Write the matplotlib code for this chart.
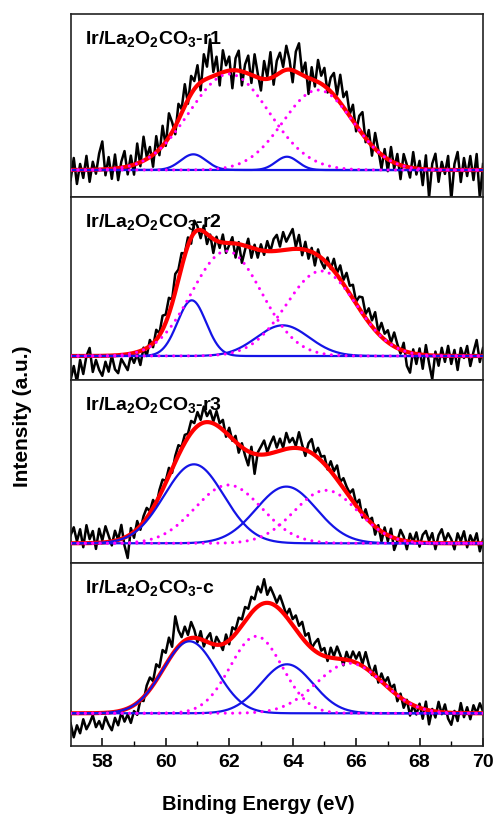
"""Ir 4f XPS of the Ir/La2O2CO3 catalysts: raw spectra, fitted envelope and
the metallic / oxidised doublet components, stacked one panel per sample."""

import matplotlib

matplotlib.use("Agg")
import matplotlib.pyplot as plt  # noqa: E402
import numpy as np  # noqa: E402

plt.rcParams["font.family"] = ["Liberation Sans", "DejaVu Sans"]
plt.rcParams["font.weight"] = "bold"
plt.rcParams["mathtext.fontset"] = "custom"
plt.rcParams["mathtext.bf"] = "Liberation Sans:bold"
plt.rcParams["mathtext.rm"] = "Liberation Sans:bold"

# --- Data -------------------------------------------------------------

SAMPLES = ["r1", "r2", "r3", "c"]

# measured points every 0.1 eV from 57.0 to 70.0 eV
E_START, E_STEP = 57.0, 0.1

# Ir(0) 4f7/2 and 4f5/2 peaks (blue), per sample
IR0_CENTER = [[60.87, 63.82], [60.82, 63.69], [60.89, 63.80], [60.75, 63.82]]
IR0_SIGMA = [[0.40, 0.35], [0.45, 0.83], [0.94, 0.95], [0.84, 0.82]]
IR0_HEIGHT = [[15.7, 13.3], [55.7, 30.7], [79.0, 56.7], [72.0, 49.0]]

# oxidised Ir 4f7/2 and 4f5/2 peaks (magenta dotted), per sample
IROX_CENTER = [[62.00, 64.80], [61.92, 64.90], [61.97, 65.05], [62.85, 65.80]]
IROX_SIGMA = [[1.25, 1.10], [1.10, 1.10], [1.05, 1.00], [0.82, 1.05]]
IROX_HEIGHT = [[96.0, 80.0], [105.0, 85.0], [58.3, 53.0], [77.0, 50.0]]

# measured counts minus fitted envelope, per sample
RESID_R1 = [
    -10, 12, -14, 6, -8, 14, -12, 8, -4, 16,
    28, -6, 12, -10, 14, -12, 6, 16, -8, 10,
    -10, 20, -4, 24, 2, 10, -12, 16, -6, 20,
    -4, 24, 10, -8, 16, 4, 22, -4, 18, 8,
    20, -8, 26, 12, 38, 4, 18, -12, 22, 6,
    14, -18, 12, 20, -14, 8, 18, -8, 22, 4,
    -12, 18, 2, 26, -8, 14, 20, 4, 24, 10,
    -12, 20, 30, 2, 14, -16, 12, -6, 22, 8,
    18, -4, 14, 22, 4, 28, 10, 20, 2, 16,
    -6, 14, 22, -4, 12, -10, 16, 2, -14, 8,
    -12, 14, -6, 10, -14, 12, 2, -10, 16, -6,
    8, -16, 14, -28, 6, 16, -12, 8, -4, 14,
    -30, 6, 18, -12, 12, -6, 14, -10, 16, -28,
    6,
]
RESID_R2 = [
    -24, -10, -26, -4, -18, 0, 8, -16, -4, -14,
    -20, -6, -16, 0, -14, -18, -4, -10, -16, -2,
    -10, -2, -14, 2, -8, 6, -4, 10, 2, 14,
    8, 16, 4, 18, 10, 14, 2, 8, -6, 12,
    4, -8, 6, -10, 2, -14, 4, -6, 8, -10,
    -2, 6, -14, 2, -18, -4, 8, -10, 4, -8,
    6, -4, 10, 0, 12, 16, 4, 18, 8, 14,
    20, 2, 14, -6, 8, -8, 4, -12, 6, -4,
    -8, 6, -2, 12, 2, 14, 4, 16, 8, 14,
    2, 12, 16, 4, 14, 6, 18, 2, 14, 6,
    12, 2, 14, 4, -4, 8, -14, -20, 4, -10,
    6, -14, 10, -8, -24, 4, -10, 8, -6, 10,
    -8, 6, -14, 8, -2, 10, -10, 4, 16, -6,
    8,
]
RESID_R3 = [
    8, 16, 2, 14, -4, 18, 4, 12, -6, 14,
    2, 16, 6, -4, 10, 0, 14, -8, -22, 6,
    -6, 8, -4, 6, 10, 2, 8, -4, 6, 10,
    2, 8, -4, 6, 10, 2, 8, 4, 12, 6,
    14, 4, 16, 6, 12, 2, 14, 4, 10, -4,
    8, -2, 6, -8, 4, -6, -14, 6, -20, 2,
    8, 14, 2, 10, 16, 4, 12, 2, 16, 6,
    10, 2, 16, 4, -6, 8, 14, 2, 10, 4,
    8, -2, 10, 4, 14, 2, 10, 6, 4, 12,
    2, 10, -4, 8, 0, 6, -8, 4, -10, 6,
    -6, 8, -12, -2, 10, 4, -8, 8, 0, 10,
    -4, 8, 12, 2, 10, -6, 8, 14, 2, 10,
    4, -6, 10, 2, 12, -4, 8, 0, 10, -8,
    4,
]
RESID_C = [
    -10, -24, -12, -20, -6, -16, -10, -2, -14, -8,
    -16, -4, -12, -18, -6, -14, -2, -12, -6, -16,
    -6, -12, 0, -4, 8, 12, 4, 16, 8, 20,
    12, 22, 8, 34, 16, 6, 14, 4, 16, 8,
    -4, 8, -6, 4, 10, -4, 8, 2, -6, 8,
    -4, 10, 4, 12, 6, 14, 8, 16, 10, 20,
    12, 24, 8, 16, 10, 4, 14, 8, 2, 12,
    6, 14, 8, 16, 6, 12, 0, 8, 14, 4,
    8, -4, 10, 2, 12, 4, -6, 8, 0, 10,
    4, 12, 2, 16, 6, -2, 10, -4, 8, 2,
    10, 2, 8, -6, 4, -8, 2, -12, 0, -8,
    4, -10, 8, -14, 2, -6, 10, -2, 8, -6,
    -12, 2, -8, 10, -4, 6, -6, 8, 0, 10,
    2,
]
RESIDUALS = [RESID_R1, RESID_R2, RESID_R3, RESID_C]

# lower intensity limit of each panel (background sits at zero)
Y_LOW = [-27.0, -24.0, -19.7, -32.7]
Y_SPAN = 183.0

XLIM = (57, 70)
XTICKS = [58, 60, 62, 64, 66, 68, 70]

BLACK = "#000000"
RED = "#ff0000"
BLUE = "#1414e6"
MAGENTA = "#ff00ff"


def gauss(x, center, sigma, height):
    return height * np.exp(-((x - center) ** 2) / (2.0 * sigma**2))


def envelope(x, k):
    total = np.zeros_like(x)
    for c, s, h in zip(IR0_CENTER[k], IR0_SIGMA[k], IR0_HEIGHT[k]):
        total += gauss(x, c, s, h)
    for c, s, h in zip(IROX_CENTER[k], IROX_SIGMA[k], IROX_HEIGHT[k]):
        total += gauss(x, c, s, h)
    return total


def main():
    fig = plt.figure(figsize=(4.96, 8.16), dpi=100)
    axes = fig.subplots(4, 1, sharex=True)
    fig.subplots_adjust(left=0.1423, right=0.9738, top=0.9828,
                        bottom=0.0858, hspace=0)

    x_fine = np.linspace(XLIM[0], XLIM[1], 651)

    for k, ax in enumerate(axes):
        resid = np.asarray(RESIDUALS[k], dtype=float)
        x_raw = E_START + E_STEP * np.arange(len(resid))
        raw = envelope(x_raw, k) + resid

        ax.plot(x_raw, raw, color=BLACK, lw=1.8, zorder=2)
        ax.plot(x_fine, envelope(x_fine, k), color=RED, lw=3.0, zorder=3)
        for c, s, h in zip(IR0_CENTER[k], IR0_SIGMA[k], IR0_HEIGHT[k]):
            ax.plot(x_fine, gauss(x_fine, c, s, h), color=BLUE, lw=1.6,
                    zorder=4)
        for c, s, h in zip(IROX_CENTER[k], IROX_SIGMA[k], IROX_HEIGHT[k]):
            ax.plot(x_fine, gauss(x_fine, c, s, h), color=MAGENTA, lw=2.2,
                    linestyle=(0, (0.01, 2.4)), dash_capstyle="round",
                    zorder=5)

        ax.text(0.035, 0.915,
                r"Ir/La$_\mathbf{2}$O$_\mathbf{2}$CO$_\mathbf{3}$-"
                + SAMPLES[k],
                transform=ax.transAxes, ha="left", va="top",
                fontsize=14, fontweight="bold")

        ax.set_ylim(Y_LOW[k], Y_LOW[k] + Y_SPAN)
        ax.set_yticks([])
        for sp in ax.spines.values():
            sp.set_linewidth(1.2)
            sp.set_color("#222222")
        ax.tick_params(axis="x", which="both", bottom=False, top=False)

    ax = axes[-1]
    ax.set_xlim(*XLIM)
    ax.set_xticks(XTICKS)
    ax.set_xticks(np.arange(59, 70, 2), minor=True)
    ax.tick_params(axis="x", which="major", bottom=True, direction="in",
                   length=6, width=1.1, labelsize=14, pad=6)
    ax.tick_params(axis="x", which="minor", bottom=True, direction="in",
                   length=3.5, width=1.0)
    for lab in ax.get_xticklabels():
        lab.set_fontweight("bold")

    fig.text(258 / 496, 1 - 805 / 816, "Binding Energy (eV)", ha="center",
             va="center", fontsize=14.5, fontweight="bold")
    fig.text(23 / 496, 1 - 416 / 816, "Intensity (a.u.)", ha="center",
             va="center", rotation=90, fontsize=15, fontweight="bold")

    fig.savefig("out.png", dpi=100)
    plt.close(fig)


if __name__ == "__main__":
    main()
